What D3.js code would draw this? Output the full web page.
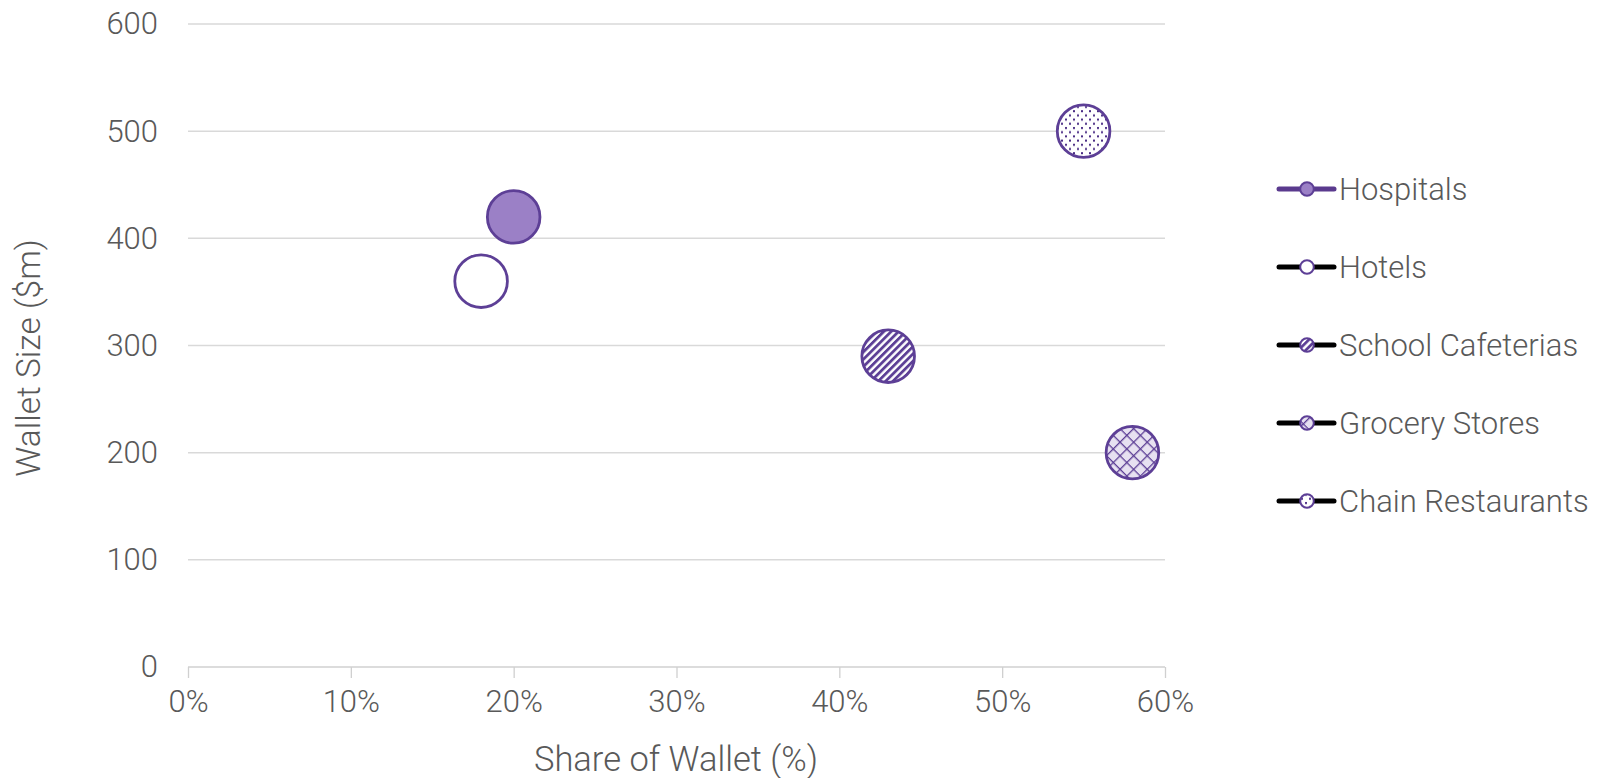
<!DOCTYPE html>
<html>
<head>
<meta charset="utf-8">
<script src="https://cdn.jsdelivr.net/npm/d3@7"></script>
<style>
  html, body { margin: 0; padding: 0; background: #ffffff; }
  svg { display: block; }
  text { font-family: Roboto, "Open Sans", "Liberation Sans", sans-serif; font-weight: 300; fill: #595959; }
</style>
</head>
<body>
<svg id="chart" width="1611" height="778"></svg>
<script>
// ---- data ----
const categories = ["Hospitals", "Hotels", "School Cafeterias", "Grocery Stores", "Chain Restaurants"];
const shareOfWallet = [0.20, 0.18, 0.43, 0.58, 0.55];
const walletSize = [420, 360, 290, 200, 500];
const bubbleSize = [1, 1, 1, 1, 1];
const xTicks = [0, 0.1, 0.2, 0.3, 0.4, 0.5, 0.6];
const yTicks = [0, 100, 200, 300, 400, 500, 600];

// ---- styles ----
const PURPLE = "#5d3f96";
const fills = ["#9b80c6", "#ffffff", "url(#stripes)", "url(#lattice)", "url(#dots)"];
const legendLine = ["#5a3a8e", "#000000", "#000000", "#000000", "#000000"];

const svg = d3.select("#chart");
const x = d3.scaleLinear().domain([0, 0.6]).range([188, 1165]);
const y = d3.scaleLinear().domain([0, 600]).range([667, 24]);
const r = d3.scaleSqrt().domain([0, 1]).range([0, 26.3]);

// patterns
const defs = svg.append("defs");
const SP = 5.2;
const st = defs.append("pattern").attr("id", "stripes").attr("patternUnits", "userSpaceOnUse")
  .attr("width", SP).attr("height", SP).attr("patternTransform", "rotate(45)");
st.append("rect").attr("width", SP).attr("height", SP).attr("fill", "#ffffff");
st.append("rect").attr("width", 2.8).attr("height", SP).attr("fill", PURPLE);

const LP = 9.6;
const lt = defs.append("pattern").attr("id", "lattice").attr("patternUnits", "userSpaceOnUse")
  .attr("width", LP).attr("height", LP).attr("patternTransform", "rotate(45)");
lt.append("rect").attr("width", LP).attr("height", LP).attr("fill", "#e7e1f1");
lt.append("rect").attr("width", 1.3).attr("height", LP).attr("fill", PURPLE);
lt.append("rect").attr("width", LP).attr("height", 1.3).attr("fill", PURPLE);

const dt = defs.append("pattern").attr("id", "dots").attr("patternUnits", "userSpaceOnUse")
  .attr("width", 8).attr("height", 8.4);
dt.append("rect").attr("width", 8).attr("height", 8.4).attr("fill", "#ffffff");
dt.append("rect").attr("x", 1).attr("y", 1).attr("width", 2).attr("height", 2).attr("fill", "#4a2c85");
dt.append("rect").attr("x", 5).attr("y", 5.2).attr("width", 2).attr("height", 2).attr("fill", "#4a2c85");

// gridlines
svg.append("g").selectAll("line").data(yTicks.filter(d => d > 0)).join("line")
  .attr("x1", x(0)).attr("x2", x(0.6))
  .attr("y1", d => y(d)).attr("y2", d => y(d))
  .attr("stroke", "#d9d9d9").attr("stroke-width", 1.5);

// y axis labels
const yAxis = svg.append("g").attr("transform", `translate(${x(0)},0)`)
  .call(d3.axisLeft(y).tickValues(yTicks).tickSize(0).tickPadding(30).tickFormat(d3.format("d")));
yAxis.select(".domain").remove();
yAxis.selectAll("text").style("font-size", "31px").attr("fill", "#595959")
  .style("font-family", "Roboto, sans-serif").style("font-weight", 300);

// x axis
const xAxis = svg.append("g").attr("transform", `translate(0,${y(0)})`)
  .call(d3.axisBottom(x).tickValues(xTicks).tickSize(11).tickPadding(12).tickFormat(d3.format(".0%")));
xAxis.select(".domain").attr("stroke", "#d0d0d0").attr("stroke-width", 1.5).attr("d", `M${x(0)},0H${x(0.6)}`);
xAxis.selectAll(".tick line").attr("stroke", "#d0d0d0").attr("stroke-width", 1.3);
xAxis.selectAll("text").style("font-size", "31px").attr("fill", "#595959")
  .style("font-family", "Roboto, sans-serif").style("font-weight", 300);

// axis titles
svg.append("text").attr("x", 676).attr("y", 771).attr("text-anchor", "middle")
  .style("font-size", "34.5px").text("Share of Wallet (%)");
svg.append("text").attr("transform", `translate(40,358) rotate(-90)`).attr("text-anchor", "middle")
  .style("font-size", "33.5px").text("Wallet Size ($m)");

// bubbles
const pts = categories.map((c, i) => ({ c, i, sx: shareOfWallet[i], sy: walletSize[i], s: bubbleSize[i] }));
svg.append("g").selectAll("circle").data(pts).join("circle")
  .attr("cx", d => x(d.sx)).attr("cy", d => y(d.sy)).attr("r", d => r(d.s))
  .attr("fill", d => fills[d.i]).attr("stroke", PURPLE).attr("stroke-width", 2.8);

// legend
const ly = d3.scalePoint().domain(categories).range([189, 501]);
const lg = svg.append("g").selectAll("g").data(pts).join("g")
  .attr("transform", d => `translate(0,${ly(d.c)})`);
lg.append("line").attr("x1", 1279).attr("x2", 1334).attr("y1", 0).attr("y2", 0)
  .attr("stroke", d => legendLine[d.i]).attr("stroke-width", 5).attr("stroke-linecap", "round");
lg.append("circle").attr("cx", 1307).attr("cy", 0).attr("r", 6.8)
  .attr("fill", d => fills[d.i]).attr("stroke", PURPLE).attr("stroke-width", 2);
lg.append("text").attr("x", 1339).attr("y", 0).attr("dy", "0.36em")
  .style("font-size", "31px").text(d => d.c);
</script>
</body>
</html>
